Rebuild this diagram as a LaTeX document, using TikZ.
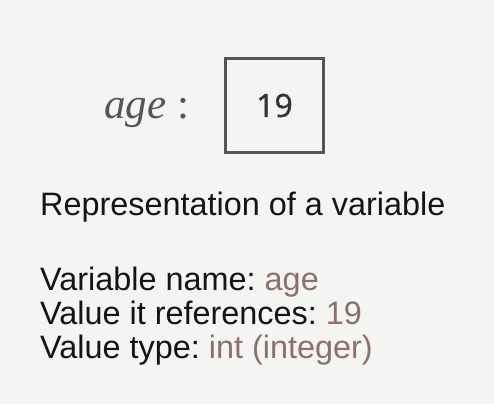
\documentclass[tikz,border=0pt]{standalone}
\usepackage{fontspec}
\setmainfont{Liberation Sans}
\newfontfamily\serifit{Liberation Serif}
\newfontfamily\digitfont[BoldFont={Open Sans},BoldFeatures={FakeBold=1.2}]{Open Sans}
\definecolor{bg}{RGB}{244,244,242}
\definecolor{boxgray}{RGB}{85,85,85}
\definecolor{valcol}{RGB}{140,112,110}
\definecolor{txt}{RGB}{20,20,20}
\frenchspacing
\begin{document}
\begin{tikzpicture}[x=1pt,y=-1pt,
  line/.style={anchor=base west,inner sep=0pt,font=\fontsize{32.4}{34}\selectfont,text=txt},
  val/.style={text=valcol}]
\fill[bg] (0,0) rectangle (494,404);
\useasboundingbox (0,0) rectangle (494,404);
\node[draw=boxgray,line width=3.5pt,minimum width=98pt,minimum height=94pt,inner sep=0pt,
  font=\digitfont\bfseries\fontsize{32}{33}\selectfont,text=black!80] (box) at (274.5,105.5) {19};
\node[anchor=base west,inner sep=0pt,text=boxgray,font=\serifit\fontsize{43}{44}\selectfont] (name) at (104,118) {\itshape age\upshape\ :};
\node[line] (title) at (40,215) {Representation of a variable};
\node[line] (l1) at (40,290) {Variable name: \textcolor{valcol}{age}};
\node[line] (l2) at (40,324) {Value it references: \textcolor{valcol}{19}};
\node[line] (l3) at (40,358) {Value type: \textcolor{valcol}{int (integer)}};
\end{tikzpicture}
\end{document}
